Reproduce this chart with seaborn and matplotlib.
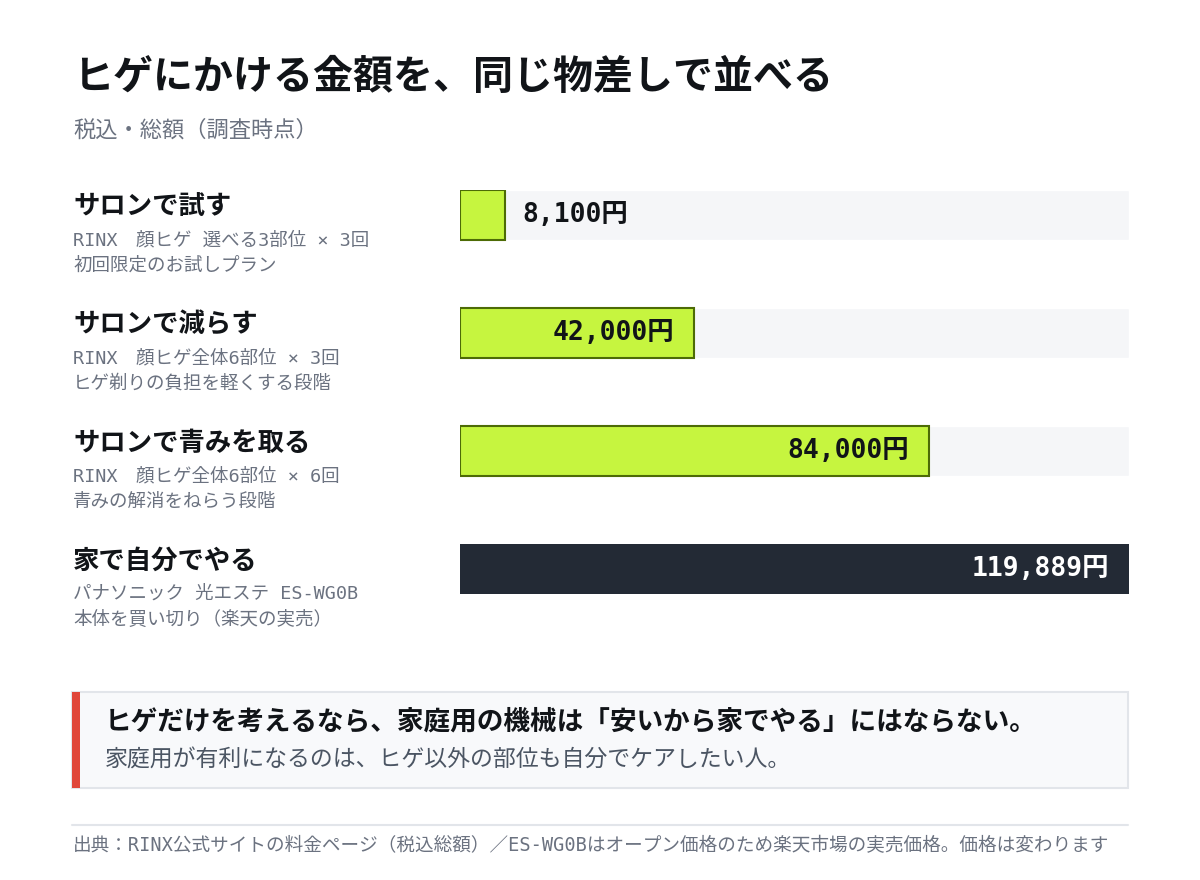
import matplotlib
matplotlib.use("Agg")
import matplotlib.pyplot as plt
from matplotlib.patches import Rectangle
from matplotlib.lines import Line2D
import numpy as np
import seaborn as sns

# データ
titles = ["サロンで試す", "サロンで減らす", "サロンで青みを取る", "家で自分でやる"]
details = ["RINX　顔ヒゲ 選べる3部位 × 3回", "RINX　顔ヒゲ全体6部位 × 3回",
           "RINX　顔ヒゲ全体6部位 × 6回", "パナソニック 光エステ ES-WG0B"]
notes = ["初回限定のお試しプラン", "ヒゲ剃りの負担を軽くする段階",
         "青みの解消をねらう段階", "本体を買い切り（楽天の実売）"]
prices = np.array([8100, 42000, 84000, 119889])
bar_colors = ["#c6f53f", "#c6f53f", "#c6f53f", "#232a35"]

sns.set_theme(style="white")
plt.rcParams['font.family'] = ['Noto Sans CJK JP', 'DejaVu Sans']
mono = ['DejaVu Sans Mono', 'Noto Sans CJK JP']

W, H = 1200, 880
fig = plt.figure(figsize=(12, 8.8), dpi=100)
fig.patch.set_facecolor("white")

def fx(x):
    return x / W

def fy(y):
    return 1 - y / H

# タイトル
fig.text(fx(73), fy(77), "ヒゲにかける金額を、同じ物差しで並べる", fontsize=28.8,
         fontweight="bold", color="#111418", va="center")
fig.text(fx(73), fy(130), "税込・総額（調査時点）", fontsize=16, color="#6b7280", va="center")

# 棒グラフ
ax = fig.add_axes([fx(460), fy(594), (1129 - 460) / W, (594 - 190) / H])
bw = 50 / 118
sns.barplot(x=np.full(len(prices), prices.max()), y=titles, color="#f5f6f8",
            saturation=1, width=bw, ax=ax)
sns.barplot(x=prices, y=titles, hue=titles, palette=bar_colors, saturation=1,
            legend=False, width=bw, ax=ax)
ax.set_xlim(0, prices.max())
ax.set_ylim(len(prices) - 1 + bw / 2, -bw / 2)
ax.axis("off")

for p in ax.patches[len(prices):]:
    if p.get_facecolor()[:3] != matplotlib.colors.to_rgb("#232a35"):
        p.set_edgecolor("#4d6b06")
        p.set_linewidth(1.5)
    else:
        p.set_linewidth(0)

bar_px = 1129 - 460
for i, v in enumerate(prices):
    label = f"{v:,}円"
    txt_color = "white" if bar_colors[i] == "#232a35" else "#111418"
    if v / prices.max() * bar_px < 150:
        ax.annotate(label, (v, i), xytext=(17, 0), textcoords="offset pixels",
                    ha="left", va="center", fontsize=19, fontweight="bold",
                    color=txt_color, family=mono)
    else:
        ax.annotate(label, (v, i), xytext=(-20, 0), textcoords="offset pixels",
                    ha="right", va="center", fontsize=19, fontweight="bold",
                    color=txt_color, family=mono)

# 左側のラベル
for i, (t, d, n) in enumerate(zip(titles, details, notes)):
    cy = 215 + 118 * i
    fig.text(fx(73), fy(cy - 8), t, fontsize=19, fontweight="bold",
             color="#111418", va="center")
    fig.text(fx(73), fy(cy + 25), d, fontsize=13.3, color="#6b7280",
             va="center", family=mono)
    fig.text(fx(73), fy(cy + 51), n, fontsize=13.3, color="#6b7280",
             va="center", family=mono)

# 結論ボックス
fig.patches.append(Rectangle((fx(72), fy(788)), (1128 - 72) / W, (788 - 692) / H,
                             transform=fig.transFigure, facecolor="#f8f9fb",
                             edgecolor="#e2e5ea", linewidth=1.5))
fig.patches.append(Rectangle((fx(72), fy(788)), 8 / W, (788 - 692) / H,
                             transform=fig.transFigure, facecolor="#e0463a",
                             edgecolor="none"))
fig.text(fx(105), fy(722), "ヒゲだけを考えるなら、家庭用の機械は「安いから家でやる」にはならない。",
         fontsize=19.2, fontweight="bold", color="#111418", va="center")
fig.text(fx(105), fy(760), "家庭用が有利になるのは、ヒゲ以外の部位も自分でケアしたい人。",
         fontsize=16.5, color="#4b5563", va="center")

# 出典
fig.lines.append(Line2D([fx(72), fx(1128)], [fy(825), fy(825)],
                        transform=fig.transFigure, color="#e2e5ea", linewidth=1.5))
fig.text(fx(73), fy(846),
         "出典：RINX公式サイトの料金ページ（税込総額）／ES-WG0Bはオープン価格のため楽天市場の実売価格。価格は変わります",
         fontsize=13.4, color="#6b7280", va="center", family=mono)

fig.savefig("out.png", dpi=100, facecolor="white")
